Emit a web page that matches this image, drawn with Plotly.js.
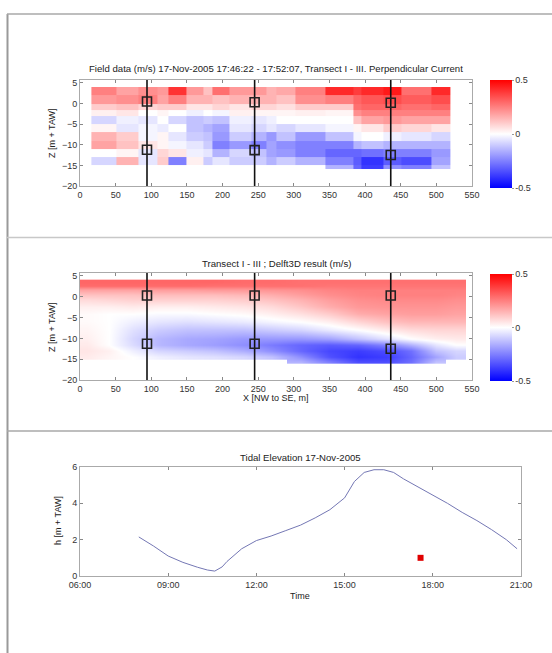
<!DOCTYPE html>
<html>
<head>
<meta charset="utf-8">
<script src="https://cdn.plot.ly/plotly-3.0.1.min.js"></script>
<style>html,body{margin:0;padding:0;background:#fff;}#chart{width:552px;height:653px;}</style>
</head>
<body>
<div id="chart"></div>
<script>
// ---------- DATA ----------
// Field (ADCP) data: irregular ensemble column edges (m) and layer edges (m + TAW)
const fieldXEdges = [16, 51, 82, 108, 124, 149, 173, 186, 210, 241, 262, 276, 302, 344, 383, 395, 425, 451, 493, 520];
const fieldZEdges = [4, 2, 0, -1.5, -3, -5, -7, -9, -11, -13, -15, -16]; // top -> bottom
// Perpendicular current (m/s), rows top -> bottom, 19 columns
const fieldValues = [
  [0.25, 0.18, 0.22, 0.20, 0.40, 0.20, 0.12, 0.28, 0.20, 0.20, 0.15, 0.17, 0.25, 0.42, 0.38, 0.42, 0.45, 0.28, 0.42],
  [0.20, 0.22, 0.25, 0.18, 0.25, 0.15, 0.15, 0.12, 0.15, 0.15, 0.15, 0.12, 0.22, 0.25, 0.30, 0.33, 0.35, 0.32, 0.35],
  [0.10, 0.12, 0.08, 0.10, 0.10, 0.05, 0.05, 0.08, 0.05, 0.08, 0.08, 0.06, 0.10, 0.10, 0.28, 0.30, 0.30, 0.28, 0.30],
  [0.03, 0.05, 0.00, 0.02, 0.00, -0.03, 0.00, -0.02, 0.03, 0.02, 0.02, 0.02, 0.03, 0.02, 0.22, 0.25, 0.25, 0.25, 0.25],
  [-0.08, -0.03, -0.05, 0.00, -0.08, -0.12, -0.10, -0.12, -0.03, -0.05, -0.03, 0.00, 0.00, 0.00, 0.12, 0.18, 0.20, 0.18, 0.18],
  [0.02, -0.05, -0.02, -0.04, 0.00, -0.12, -0.15, -0.18, -0.05, -0.08, -0.05, -0.08, -0.05, -0.02, 0.02, 0.05, 0.10, 0.08, 0.05],
  [0.15, 0.10, -0.02, 0.02, -0.05, -0.10, -0.12, -0.20, -0.10, -0.15, -0.20, -0.12, -0.20, -0.12, -0.02, 0.00, -0.03, -0.05, -0.08],
  [0.18, 0.12, 0.05, 0.02, -0.02, -0.05, -0.10, -0.25, -0.20, -0.25, -0.18, -0.22, -0.25, -0.25, -0.15, -0.12, -0.15, -0.15, -0.15],
  [0.00, 0.02, -0.05, 0.08, 0.05, -0.03, -0.05, -0.15, -0.08, -0.12, -0.18, -0.20, -0.25, -0.30, -0.30, -0.28, -0.25, -0.25, -0.20],
  [-0.08, 0.15, -0.05, 0.10, -0.25, 0.03, -0.10, -0.05, -0.10, -0.10, -0.15, -0.10, -0.15, -0.25, -0.32, -0.40, -0.32, -0.35, -0.18],
  [null, null, null, null, null, null, null, null, null, null, null, null, null, -0.15, -0.30, -0.38, -0.22, -0.25, -0.12]
];

// Delft3D model result: cell centres and values (rows top -> bottom)
const modelX = [10, 40, 75, 110, 150, 190, 230, 270, 310, 350, 390, 430, 465, 500, 528];
const modelZ = [3.6, 2.6, 1.6, 0.6, -0.8, -2.4, -4, -6, -8, -10, -11.5, -13, -14.5, -15.6];
const modelValues = [
  [0.30, 0.30, 0.30, 0.30, 0.30, 0.30, 0.29, 0.29, 0.28, 0.28, 0.28, 0.28, 0.28, 0.28, 0.28],
  [0.29, 0.29, 0.29, 0.29, 0.29, 0.28, 0.28, 0.28, 0.28, 0.27, 0.27, 0.27, 0.27, 0.27, 0.27],
  [0.18, 0.18, 0.18, 0.19, 0.19, 0.20, 0.20, 0.21, 0.22, 0.24, 0.25, 0.25, 0.25, 0.25, 0.25],
  [0.12, 0.12, 0.12, 0.13, 0.13, 0.13, 0.14, 0.16, 0.19, 0.22, 0.24, 0.25, 0.25, 0.25, 0.24],
  [0.07, 0.08, 0.09, 0.09, 0.09, 0.09, 0.10, 0.12, 0.15, 0.19, 0.22, 0.23, 0.23, 0.23, 0.22],
  [0.03, 0.03, 0.04, 0.03, 0.03, 0.04, 0.05, 0.07, 0.11, 0.16, 0.20, 0.21, 0.21, 0.21, 0.20],
  [0.01, 0.00, 0.00, -0.01, -0.01, 0.00, 0.01, 0.03, 0.06, 0.10, 0.16, 0.18, 0.19, 0.19, 0.18],
  [0.01, 0.00, -0.03, -0.05, -0.06, -0.05, -0.04, -0.02, 0.00, 0.03, 0.08, 0.12, 0.14, 0.14, 0.14],
  [0.02, 0.00, -0.06, -0.10, -0.12, -0.12, -0.12, -0.10, -0.08, -0.04, 0.00, 0.04, 0.07, 0.08, 0.08],
  [0.03, 0.00, -0.08, -0.14, -0.17, -0.18, -0.20, -0.20, -0.20, -0.18, -0.12, -0.06, 0.00, 0.03, 0.04],
  [0.04, 0.00, -0.07, -0.14, -0.17, -0.19, -0.22, -0.26, -0.30, -0.32, -0.30, -0.24, -0.15, -0.05, 0.00],
  [0.05, 0.03, -0.03, -0.08, -0.10, -0.12, -0.16, -0.22, -0.30, -0.36, -0.38, -0.35, -0.28, -0.12, -0.08],
  [0.04, 0.02, 0.00, -0.03, -0.05, -0.06, -0.08, -0.12, -0.22, -0.34, -0.40, -0.38, -0.30, -0.18, -0.10],
  [null, null, null, null, null, null, null, null, -0.15, -0.25, -0.35, -0.35, -0.28, -0.12, null]
];

// Transect stations (x) and measurement points (z) for field and model panels
const stationX = [94, 245, 436];
const fieldPointZ = [[0.5, -11.2], [0.3, -11.3], [0.2, -12.5]];
const modelPointZ = [[0.3, -11.3], [0.3, -11.3], [0.3, -12.5]];

// Tidal elevation
const tideTime = ['08:00','08:30','09:00','09:30','10:00','10:20','10:35','10:50','11:00','11:30','12:00','12:30','13:00','13:30','14:00','14:30','15:00','15:20','15:40','16:00','16:20','16:40','17:00','17:30','18:00','18:30','19:00','19:30','20:00','20:30','20:52'];
const tideH = [2.15, 1.65, 1.1, 0.75, 0.48, 0.33, 0.27, 0.5, 0.8, 1.5, 1.95, 2.2, 2.5, 2.8, 3.2, 3.65, 4.3, 5.2, 5.7, 5.85, 5.85, 5.7, 5.35, 4.9, 4.45, 4.0, 3.5, 3.05, 2.55, 2.0, 1.5];
const surveyTime = ['17:35'];
const surveyH = [1.0];
const day = '2005-11-17 ';

// ---------- HELPERS ----------
const W = 552, H = 653;
const px = v => v / W;
const py = v => 1 - v / H;
const rev = a => a.slice().reverse();

const colorscale = [[0, '#0000ff'], [0.5, '#ffffff'], [1, '#ff0000']];
const font = 'Liberation Sans, Arial, sans-serif';

function cbar(top, bottom) {
  return {
    x: px(490), xanchor: 'left', xpad: 0, ypad: 0,
    y: py((top + bottom) / 2), yanchor: 'middle',
    len: (bottom - top) / H, lenmode: 'fraction',
    thickness: 22, thicknessmode: 'pixels',
    outlinewidth: 0,
    tickvals: [-0.5, 0, 0.5], ticktext: ['-0.5', '0', '0.5'],
    ticks: 'outside', ticklen: 2, tickcolor: '#999',
    tickfont: {family: font, size: 9, color: '#333'}
  };
}

const traces = [];
traces.push({
  type: 'heatmap', xaxis: 'x', yaxis: 'y',
  x: fieldXEdges, y: rev(fieldZEdges), z: rev(fieldValues),
  zmin: -0.5, zmax: 0.5, colorscale: colorscale,
  colorbar: cbar(80, 188), hoverinfo: 'skip'
});
traces.push({
  type: 'heatmap', xaxis: 'x2', yaxis: 'y2',
  x: modelX, y: rev(modelZ), z: rev(modelValues),
  zmin: -0.5, zmax: 0.5, colorscale: colorscale, zsmooth: 'best',
  colorbar: cbar(274, 381), hoverinfo: 'skip'
});

// station lines and points
[['x', 'y', fieldPointZ], ['x2', 'y2', modelPointZ]].forEach(([xa, ya, pts]) => {
  stationX.forEach((sx, i) => {
    traces.push({
      type: 'scatter', mode: 'lines', xaxis: xa, yaxis: ya,
      x: [sx, sx], y: [-20, 5.7], line: {color: '#111', width: 1.6},
      hoverinfo: 'skip', showlegend: false
    });
    traces.push({
      type: 'scatter', mode: 'markers', xaxis: xa, yaxis: ya,
      x: pts[i].map(() => sx), y: pts[i],
      marker: {symbol: 'square-open', size: 9, color: '#222', line: {width: 1.6, color: '#222'}},
      hoverinfo: 'skip', showlegend: false
    });
  });
});

traces.push({
  type: 'scatter', mode: 'lines', xaxis: 'x3', yaxis: 'y3',
  x: tideTime.map(t => day + t), y: tideH,
  line: {color: '#7477b4', width: 1}, hoverinfo: 'skip', showlegend: false
});
traces.push({
  type: 'scatter', mode: 'markers', xaxis: 'x3', yaxis: 'y3',
  x: surveyTime.map(t => day + t), y: surveyH,
  marker: {symbol: 'square', size: 6, color: '#e00000'}, hoverinfo: 'skip', showlegend: false
});

function axis(extra) {
  return Object.assign({
    showline: true, linecolor: '#aaaaaa', linewidth: 1, mirror: 'ticks',
    ticks: 'inside', ticklen: 3, tickcolor: '#888',
    showgrid: false, zeroline: false,
    tickfont: {family: font, size: 9, color: '#333'}
  }, extra);
}

const layout = {
  width: W, height: H,
  margin: {l: 0, r: 0, t: 0, b: 0},
  paper_bgcolor: '#ffffff', plot_bgcolor: '#ffffff',
  showlegend: false,
  font: {family: font, size: 9, color: '#333'},
  xaxis: axis({domain: [px(80), px(472)], range: [0, 550], dtick: 50, anchor: 'y'}),
  yaxis: axis({domain: [py(186), py(80)], range: [-20, 5.7], tickvals: [-20, -15, -10, -5, 0, 5], anchor: 'x'}),
  xaxis2: axis({domain: [px(80), px(472)], range: [0, 550], dtick: 50, anchor: 'y2'}),
  yaxis2: axis({domain: [py(380), py(273)], range: [-20, 5.7], tickvals: [-20, -15, -10, -5, 0, 5], anchor: 'x2'}),
  xaxis3: axis({domain: [px(80), px(521)], type: 'date', range: [day + '06:00', day + '21:00'],
                dtick: 3 * 3600 * 1000, tick0: day + '06:00', tickformat: '%H:%M', anchor: 'y3'}),
  yaxis3: axis({domain: [py(576), py(467)], range: [0, 6], dtick: 2, anchor: 'x3'}),
  annotations: [
    {text: 'Field data (m/s) 17-Nov-2005 17:46:22 - 17:52:07, Transect I - III. Perpendicular Current', x: px(276), y: py(69), font: {size: 9.6}},
    {text: 'Transect I - III ; Delft3D result (m/s)', x: px(276), y: py(263), font: {size: 9.6}},
    {text: 'Tidal Elevation 17-Nov-2005', x: px(300), y: py(457), font: {size: 9.6}},
    {text: 'Z [m + TAW]', x: px(52), y: py(133), textangle: -90},
    {text: 'Z [m + TAW]', x: px(52), y: py(327), textangle: -90},
    {text: 'h [m + TAW]', x: px(58), y: py(521), textangle: -90},
    {text: 'X [NW to SE, m]', x: px(276), y: py(398)},
    {text: 'Time', x: px(300), y: py(596)}
  ].map(a => Object.assign({xref: 'paper', yref: 'paper', showarrow: false, xanchor: 'center', yanchor: 'middle'}, a,
                            {font: Object.assign({family: font, size: 9, color: '#222'}, a.font || {})})),
  shapes: [
    {type: 'line', xref: 'paper', yref: 'paper', x0: px(7.5), x1: px(7.5), y0: py(14), y1: 0, line: {color: '#9a9a9a', width: 2}},
    {type: 'line', xref: 'paper', yref: 'paper', x0: px(7), x1: 1, y0: py(14), y1: py(14), line: {color: '#a8a8a8', width: 1.5}},
    {type: 'line', xref: 'paper', yref: 'paper', x0: px(7), x1: 1, y0: py(237.5), y1: py(237.5), line: {color: '#c8c8c8', width: 1.5}},
    {type: 'line', xref: 'paper', yref: 'paper', x0: px(7), x1: 1, y0: py(431), y1: py(431), line: {color: '#a8a8a8', width: 1.5}}
  ]
};

Plotly.newPlot('chart', traces, layout, {staticPlot: true, displayModeBar: false});
</script>
</body>
</html>
